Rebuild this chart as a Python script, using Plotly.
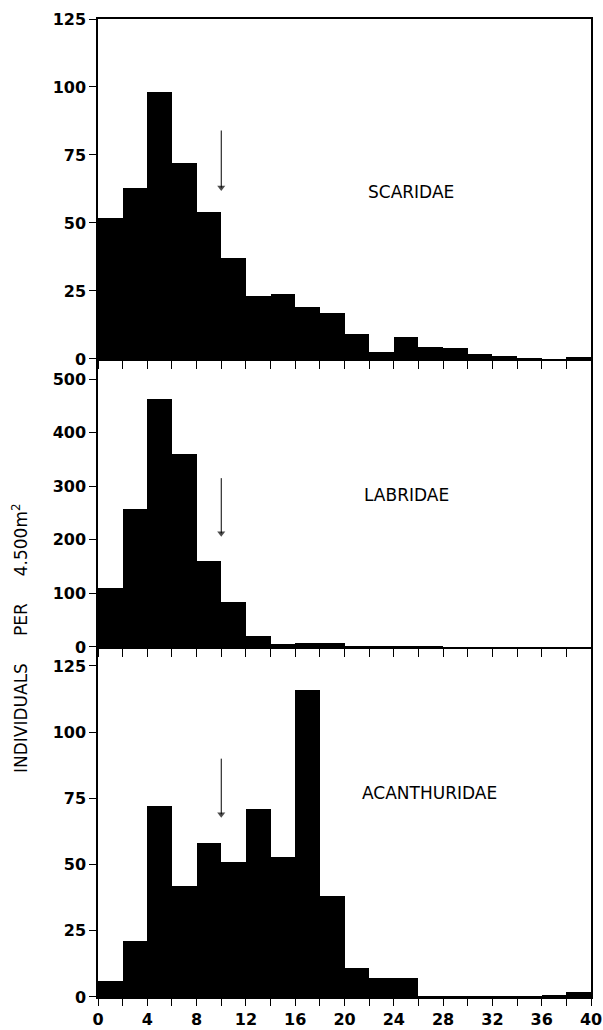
import plotly.graph_objects as go

# Size classes (cm), bins of width 2 starting at these values
bin_starts = [0, 2, 4, 6, 8, 10, 12, 14, 16, 18, 20, 22, 24, 26, 28, 30, 32, 34, 36, 38]
bin_width = 2

families = ["SCARIDAE", "LABRIDAE", "ACANTHURIDAE"]

scaridae = [52, 63, 98, 72, 54, 37, 23, 24, 19, 17, 9, 2.5, 8, 4.3, 4, 2, 1, 0.3, 0, 0.5]
labridae = [110, 258, 463, 360, 160, 84, 21, 5, 7, 7, 1.5, 1.5, 1.5, 0.5, 0, 0, 0, 0, 0, 0]
acanthuridae = [6, 21, 72, 42, 58, 51, 71, 53, 116, 38, 11, 7, 7, 0.3, 0.3, 0.3, 0.3, 0.3, 0.5, 2]

# arrow position (size class) and arrow span (tail, head) per panel
arrow_x = [10, 10, 10]
arrow_tail = [84, 315, 90]
arrow_head = [63, 212, 69]

y_ticks = [[0, 25, 50, 75, 100, 125], [0, 100, 200, 300, 400, 500], [0, 25, 50, 75, 100, 125]]
y_ranges = [[0, 125], [0, 533.6], [0, 131.4]]

label_pos = [(25.4, 61.5), (25.0, 284), (26.9, 77)]

series = [scaridae, labridae, acanthuridae]
domains = [[0.6524, 1.0], [0.3579, 0.6503], [0.0, 0.3558]]

centers = [b + bin_width / 2 for b in bin_starts]

fig = go.Figure()
tick_font = "DejaVu Sans, sans-serif"
text_font = "DejaVu Sans, sans-serif"

for i, vals in enumerate(series):
    n = "" if i == 0 else str(i + 1)
    fig.add_trace(go.Bar(
        x=centers, y=vals, width=bin_width,
        marker=dict(color="black", line=dict(width=0)),
        xaxis="x" + n, yaxis="y" + n, showlegend=False, hoverinfo="skip",
    ))
    # arrow shaft + head
    fig.add_trace(go.Scatter(
        x=[arrow_x[i], arrow_x[i]], y=[arrow_tail[i], arrow_head[i]],
        mode="lines+markers",
        line=dict(color="black", width=1),
        marker=dict(symbol="triangle-down", size=[0, 7], color="black",
                    line=dict(width=0)),
        xaxis="x" + n, yaxis="y" + n, showlegend=False, hoverinfo="skip",
        cliponaxis=False,
    ))
    last = (i == 2)
    tl = 7 if last else 8
    fig.layout["xaxis" + n] = dict(
        range=[0, 40], domain=[0, 1], anchor="y" + n,
        tickmode="linear", tick0=0, dtick=4,
        showticklabels=last,
        ticklabeloverflow="allow",
        automargin=False,
        ticks="outside", ticklen=tl, tickwidth=1.2, tickcolor="black",
        minor=dict(tickmode="linear", tick0=0, dtick=2, ticks="outside",
                   ticklen=tl, tickwidth=1.2, tickcolor="black", showgrid=False),
        showline=True, linecolor="black", linewidth=1.5, mirror=True,
        showgrid=False, zeroline=False,
        tickfont=dict(family=tick_font, size=16, color="black", weight="bold"),
    )
    fig.layout["yaxis" + n] = dict(
        range=y_ranges[i], domain=domains[i], anchor="x" + n,
        tickmode="array", tickvals=y_ticks[i],
        automargin=False,
        ticks="outside", ticklen=7, tickwidth=1.2, tickcolor="black",
        showline=True, linecolor="black", linewidth=1.5, mirror=True,
        showgrid=False, zeroline=False,
        tickfont=dict(family=tick_font, size=16, color="black", weight="bold"),
    )
    # family label
    fig.add_annotation(
        x=label_pos[i][0], y=label_pos[i][1], xref="x" + n, yref="y" + n,
        text=families[i], showarrow=False,
        font=dict(family=text_font, size=17, color="black"),
    )

L, R, T, B = 98, 12, 19, 33
W, H = 603, 1030
sp = "\u00a0" * 5
fig.add_annotation(
    xref="paper", yref="paper",
    x=(20 - L) / (W - L - R), y=(H - B - 638) / (H - T - B),
    text="INDIVIDUALS" + sp + "PER" + sp + "4.500m<sup>2</sup>",
    showarrow=False, textangle=-90, xanchor="center", yanchor="middle",
    font=dict(family=text_font, size=17, color="black"),
)

fig.update_layout(
    width=W, height=H,
    margin=dict(l=L, r=R, t=T, b=B),
    paper_bgcolor="white", plot_bgcolor="white",
    bargap=0,
)

fig.write_html("out.html")
